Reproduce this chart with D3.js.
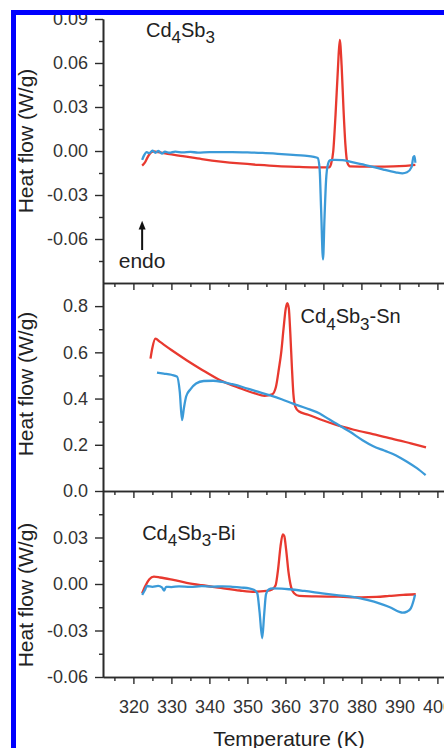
<!DOCTYPE html>
<html>
<head>
<meta charset="utf-8">
<script src="https://cdn.jsdelivr.net/npm/d3@7"></script>
<style>
  html, body { margin: 0; padding: 0; background: #fff; }
  svg { display: block; }
  text { font-family: "Liberation Sans", Arial, Helvetica, sans-serif; }
</style>
</head>
<body>
<svg id="chart" width="444" height="748"></svg>
<script>
// DSC traces: [temperature (K), heat flow (W/g)], endothermic up.
// Red = heating run, blue = cooling run.
const cd4sb3Heating = [
  [322.3,-0.010],[323.0,-0.008],[323.8,-0.004],[324.6,-0.001],[325.4,-0.0003],[326.5,-0.0008],
  [329,-0.002],[333,-0.0035],[338,-0.0055],[343,-0.0072],[348,-0.0085],[353,-0.0095],
  [358,-0.0103],[363,-0.0108],[367,-0.0111],[371.5,-0.0112],[372.0,-0.009],[372.6,0.0],
  [373.2,0.025],[373.8,0.055],[374.3,0.0757],[374.8,0.058],[375.3,0.028],[375.8,0.004],
  [376.3,-0.008],[377,-0.0105],[382,-0.0107],[386,-0.0106],[390,-0.0103],[393,-0.0098],[394.2,-0.0095]
];
const cd4sb3Cooling = [
  [322.3,-0.006],[322.8,-0.003],[323.5,-0.0008],[324.2,-0.0015],[325,0.0003],[325.8,-0.0012],
  [326.6,0.0],[327.5,-0.0018],[328.3,-0.0005],[329.5,-0.0012],[331,-0.0004],[333,-0.001],
  [335,-0.0006],[337,-0.0011],[340,-0.0007],[343,-0.0008],[346,-0.0007],[350,-0.0009],
  [354,-0.0013],[358,-0.0019],[362,-0.0026],[365,-0.0032],[367.5,-0.004],[368.5,-0.0048],
  [369.0,-0.012],[369.4,-0.04],[369.9,-0.0739],[370.3,-0.045],[370.7,-0.02],[371.2,-0.009],
  [371.8,-0.0062],[373,-0.006],[375,-0.0062],[377,-0.0072],[380,-0.009],[383,-0.0108],
  [386,-0.0128],[389,-0.0145],[390.8,-0.0152],[392,-0.0145],[393.2,-0.011],[393.7,-0.004],
  [394.0,-0.0035],[394.2,-0.008]
];
const snHeating = [
  [324.5,0.573],[325.0,0.62],[325.8,0.659],[327,0.645],[330,0.61],[334,0.566],[338,0.525],
  [343,0.478],[348,0.445],[352,0.422],[354.5,0.412],[356.5,0.418],[357.5,0.45],[358.3,0.53],
  [358.9,0.6],[359.5,0.7],[360.1,0.79],[360.5,0.813],[360.9,0.79],[361.3,0.68],[361.7,0.54],
  [362.1,0.42],[362.6,0.365],[363.5,0.345],[366,0.33],[370,0.305],[373,0.288],[378,0.265],
  [383,0.246],[388,0.227],[393,0.206],[397,0.189]
];
const snCooling = [
  [326.2,0.512],[328,0.508],[330,0.503],[331.5,0.495],[332.2,0.43],[332.8,0.307],[333.3,0.36],
  [333.9,0.41],[335,0.44],[336.5,0.465],[338.5,0.476],[341,0.477],[343.4,0.472],[346,0.462],
  [348.7,0.45],[352,0.433],[356,0.414],[359,0.397],[362,0.378],[365.5,0.358],[369,0.335],
  [371.5,0.31],[374,0.286],[377,0.256],[380.3,0.22],[383,0.195],[386,0.175],[389,0.155],
  [392,0.127],[394.5,0.1],[396.9,0.069]
];
const biHeating = [
  [322.3,-0.006],[323.2,-0.001],[324.2,0.003],[325.4,0.0047],[327,0.0042],[330.5,0.0026],
  [334,0.0008],[338,-0.0008],[343,-0.0025],[348,-0.0042],[352,-0.005],[355,-0.0045],
  [356.5,-0.0035],[357.4,-0.001],[358.1,0.01],[358.7,0.024],[359.3,0.032],[359.7,0.031],
  [360.2,0.022],[360.8,0.008],[361.5,-0.002],[362.3,-0.006],[363.6,-0.0077],[368,-0.008],
  [374,-0.0082],[380,-0.0086],[384,-0.0083],[387.3,-0.0077],[391,-0.007],[394.3,-0.0066]
];
const biCooling = [
  [322.3,-0.007],[323.0,-0.004],[323.6,-0.0013],[325,-0.0018],[326.5,-0.0012],[327.5,-0.0022],
  [328.1,-0.0042],[328.6,-0.0018],[330,-0.002],[332,-0.0015],[335,-0.0019],[338,-0.0014],
  [341,-0.0017],[343.4,-0.0015],[346,-0.0018],[348.5,-0.0023],[350.4,-0.0028],[351.8,-0.0038],
  [352.6,-0.006],[353.2,-0.018],[353.9,-0.035],[354.4,-0.02],[354.9,-0.0065],[355.6,-0.0035],
  [356.6,-0.0028],[359,-0.003],[361,-0.0034],[365,-0.0045],[369.7,-0.006],[374,-0.0073],
  [378.5,-0.0086],[381.5,-0.0103],[384.7,-0.0125],[387.5,-0.015],[390,-0.018],[390.8,-0.0185],
  [392,-0.0178],[393,-0.0157],[393.7,-0.011],[394.1,-0.007]
];

// Axis ticks and labels
const xMajorTicks = [320, 330, 340, 350, 360, 370, 380, 390, 400];
const xMinorTicks = [315, 325, 335, 345, 355, 365, 375, 385, 395];
const topYTicks = [-0.06, -0.03, 0, 0.03, 0.06, 0.09];
const topYLabels = ["-0.06", "-0.03", "0.00", "0.03", "0.06", "0.09"];
const topYMinor = [-0.075, -0.045, -0.015, 0.015, 0.045, 0.075];
const midYTicks = [0, 0.2, 0.4, 0.6, 0.8];
const midYLabels = ["0.0", "0.2", "0.4", "0.6", "0.8"];
const midYMinor = [0.1, 0.3, 0.5, 0.7];
const botYTicks = [-0.06, -0.03, 0, 0.03];
const botYLabels = ["-0.06", "-0.03", "0.00", "0.03"];
const botYMinor = [-0.045, -0.015, 0.015, 0.045];

const RED = "#e8392f";
const BLUE = "#3b9ad8";
const INK = "#2b2b2b";

const svg = d3.select("#chart");
svg.append("rect").attr("width", 444).attr("height", 748).attr("fill", "#fff");

svg.append("defs").append("clipPath").attr("id", "inner")
  .append("rect").attr("x", 16).attr("y", 15).attr("width", 440).attr("height", 740);

const g = svg.append("g").attr("clip-path", "url(#inner)");

const x = d3.scaleLinear().domain([312, 402]).range([103, 445]);

const panels = [
  { domain: [-0.09, 0.09], range: [283, 19], ticks: topYTicks, labels: topYLabels, minor: topYMinor,
    heating: cd4sb3Heating, cooling: cd4sb3Cooling, labelCenter: 141, xLabels: false,
    title: { t: 323.3, v: 0.078, parts: [["Cd"], ["4", 1], ["Sb"], ["3", 1]] } },
  { domain: [0, 0.9], range: [491, 283], ticks: midYTicks, labels: midYLabels, minor: midYMinor,
    heating: snHeating, cooling: snCooling, labelCenter: 384, xLabels: false,
    title: { t: 364.0, v: 0.7256, parts: [["Cd"], ["4", 1], ["Sb"], ["3", 1], ["-Sn"]] } },
  { domain: [-0.06, 0.06], range: [677, 491], ticks: botYTicks, labels: botYLabels, minor: botYMinor,
    heating: biHeating, cooling: biCooling, labelCenter: 595, xLabels: true,
    title: { t: 322.3, v: 0.0284, parts: [["Cd"], ["4", 1], ["Sb"], ["3", 1], ["-Bi"]] } }
];

function styleAxis(sel) {
  sel.selectAll("path.domain").attr("stroke", INK).attr("stroke-width", 1.6);
  sel.selectAll(".tick line").attr("stroke", INK).attr("stroke-width", 1.4);
  sel.selectAll(".tick text").attr("fill", "#333").attr("font-size", 18)
    .attr("font-family", "'Liberation Sans', Arial, Helvetica, sans-serif");
}

panels.forEach((p, i) => {
  const y = d3.scaleLinear().domain(p.domain).range(p.range);
  p.y = y;

  // traces
  const line = d3.line().x(d => x(d[0])).y(d => y(d[1])).curve(d3.curveMonotoneX);
  g.append("path").datum(p.heating).attr("d", line)
    .attr("fill", "none").attr("stroke", RED).attr("stroke-width", 2.3).attr("stroke-linejoin", "round");
  g.append("path").datum(p.cooling).attr("d", line)
    .attr("fill", "none").attr("stroke", BLUE).attr("stroke-width", 2.3).attr("stroke-linejoin", "round");

  // y axis: minor then major
  g.append("g").attr("transform", "translate(103,0)")
    .call(d3.axisLeft(y).tickValues(p.minor).tickSize(4).tickSizeOuter(0).tickFormat(""))
    .call(styleAxis);
  g.append("g").attr("transform", "translate(103,0)")
    .call(d3.axisLeft(y).tickValues(p.ticks).tickSize(8).tickPadding(7).tickSizeOuter(0)
      .tickFormat((d, k) => p.labels[k]))
    .call(styleAxis);

  // x axis along the panel bottom, ticks pointing down
  const yb = p.range[0];
  g.append("g").attr("transform", `translate(0,${yb})`)
    .call(d3.axisBottom(x).tickValues(xMinorTicks).tickSize(4).tickSizeOuter(0).tickFormat(""))
    .call(styleAxis);
  g.append("g").attr("transform", `translate(0,${yb})`)
    .call(d3.axisBottom(x).tickValues(xMajorTicks).tickSize(7).tickPadding(16).tickSizeOuter(0)
      .tickFormat(p.xLabels ? d3.format("d") : ""))
    .call(styleAxis);

  // y axis title
  g.append("text")
    .attr("transform", `translate(33,${p.labelCenter}) rotate(-90)`)
    .attr("text-anchor", "middle")
    .attr("font-size", 21).attr("fill", "#222")
    .text("Heat flow (W/g)");

  // panel title with subscripts
  const tt = g.append("text")
    .attr("x", x(p.title.t)).attr("y", y(p.title.v))
    .attr("font-size", 20).attr("fill", "#222");
  let shifted = false;
  p.title.parts.forEach(([s, sub]) => {
    const ts = tt.append("tspan").text(s);
    if (sub && !shifted) { ts.attr("dy", 6.5).attr("font-size", 17); shifted = true; }
    else if (sub) { ts.attr("font-size", 17); }
    else if (shifted) { ts.attr("dy", -6.5); shifted = false; }
  });
});

// "endo" direction marker in the top panel
const yTop = panels[0].y;
const ax = x(322.3);
g.append("line")
  .attr("x1", ax).attr("x2", ax)
  .attr("y1", yTop(-0.0675)).attr("y2", yTop(-0.051))
  .attr("stroke", "#111").attr("stroke-width", 2);
g.append("path")
  .attr("d", `M${ax},${yTop(-0.0475)} L${ax - 3.5},${yTop(-0.0535)} L${ax + 3.5},${yTop(-0.0535)} Z`)
  .attr("fill", "#111");
g.append("text")
  .attr("x", ax).attr("y", yTop(-0.08))
  .attr("text-anchor", "middle").attr("font-size", 21).attr("fill", "#222")
  .text("endo");

// x axis title
g.append("text")
  .attr("x", 289).attr("y", 746)
  .attr("text-anchor", "middle").attr("font-size", 21).attr("fill", "#222")
  .text("Temperature (K)");

// blue frame
svg.append("rect")
  .attr("x", 13.5).attr("y", 12.5).attr("width", 500).attr("height", 800)
  .attr("fill", "none").attr("stroke", "#0000ff").attr("stroke-width", 5);
</script>
</body>
</html>
